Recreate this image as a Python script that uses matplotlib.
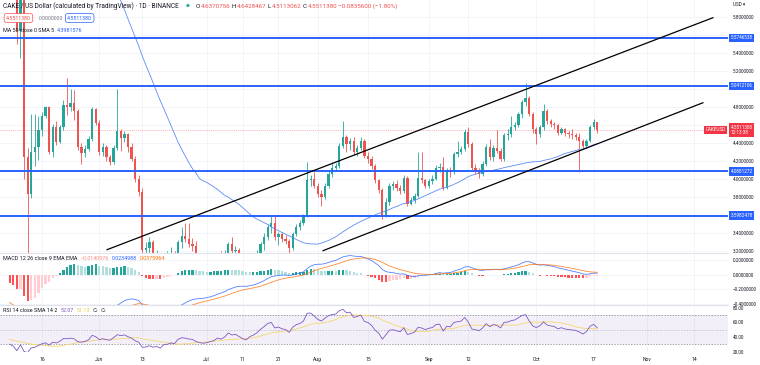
import numpy as np
import pandas as pd
import matplotlib
matplotlib.use("Agg")
import matplotlib.pyplot as plt
import matplotlib.dates as mdates
import matplotlib.transforms as mtrans

plt.rcParams['font.family'] = ['Roboto', 'DejaVu Sans']

# ---------------- data ----------------
# closes before the visible window (needed by the indicators), 2022-03-19 .. 2022-05-06
pre_start = "2022-03-19"
pre_close = [8.6, 8.8, 8.7, 9.0, 9.2, 9.1, 9.4, 9.6, 9.5, 9.8, 10.0, 9.7, 9.5,
             9.6, 9.9, 10.1, 9.8, 9.6, 9.0, 9.2, 9.1, 9.3, 9.2, 8.8, 9.0, 9.2, 9.1, 9.3,
             9.4, 9.2, 9.0, 9.3, 9.5, 9.3, 9.0, 8.9, 8.8, 8.3, 8.0, 8.2, 8.1, 7.9, 7.6,
             7.8, 7.9, 7.7, 8.0, 7.3, 7.1]

# daily candles 2022-05-07 .. 2022-10-18 (open = previous close)
first_day = "2022-05-07"
close = [
    # May 7-31
    6.90, 6.60, 5.65, 6.10, 4.25, 3.84, 4.31, 4.36, 4.55, 4.71, 4.80, 4.30, 4.58,
    4.42, 4.58, 4.83, 4.80, 4.85, 4.76, 4.36, 4.29, 4.34, 4.45, 4.78, 4.63,
    # Jun
    4.30, 4.36, 4.25, 4.19, 4.35, 4.54, 4.46, 4.50, 4.36, 4.23, 4.00, 3.86, 3.22,
    3.24, 3.30, 3.12, 3.15, 2.95, 3.10, 3.12, 3.18, 3.12, 3.30, 3.37, 3.34, 3.28,
    3.26, 3.12, 3.05, 3.00,
    # Jul
    3.02, 3.05, 3.08, 3.15, 3.10, 3.16, 3.28, 3.20, 3.22, 3.14, 3.05, 3.00, 3.08,
    3.12, 3.18, 3.28, 3.36, 3.47, 3.51, 3.36, 3.39, 3.34, 3.32, 3.24, 3.39, 3.47,
    3.51, 3.60, 3.99, 4.00, 3.93,
    # Aug
    3.84, 3.80, 3.93, 4.06, 4.13, 4.15, 4.37, 4.47, 4.39, 4.43, 4.30, 4.35, 4.43,
    4.26, 4.23, 4.15, 3.99, 3.88, 3.60, 3.75, 3.93, 3.95, 3.91, 3.87, 4.02, 3.73,
    3.77, 3.82, 4.02, 3.99, 3.93,
    # Sep
    3.98, 4.01, 4.13, 4.14, 3.91, 4.10, 4.08, 4.28, 4.31, 4.34, 4.53, 4.39, 4.13,
    4.10, 4.06, 4.17, 4.36, 4.25, 4.35, 4.32, 4.23, 4.49, 4.50, 4.58, 4.61, 4.73,
    4.86, 4.91, 4.73, 4.56,
    # Oct 1-18
    4.50, 4.58, 4.76, 4.65, 4.62, 4.60, 4.52, 4.56, 4.52, 4.50, 4.49, 4.475, 4.43,
    4.37, 4.43, 4.58, 4.634698, 4.5511380]
high = [
    7.10, 7.00, 6.70, 6.50, 6.30, 4.35, 4.73, 4.73, 4.70, 4.75, 4.82, 4.82, 4.62,
    4.65, 4.60, 4.88, 5.13, 5.00, 4.99, 4.78, 4.40, 4.38, 4.48, 4.80, 4.79,
    4.66, 4.40, 4.38, 4.27, 4.38, 5.00, 4.56, 4.54, 4.52, 4.40, 4.26, 4.05, 3.90,
    3.30, 3.36, 3.33, 3.22, 3.18, 3.15, 3.20, 3.25, 3.20, 3.33, 3.47, 3.52, 3.52,
    3.35, 3.32, 3.15, 3.10,
    3.10, 3.10, 3.12, 3.18, 3.20, 3.22, 3.30, 3.36, 3.26, 3.24, 3.16, 3.08, 3.12,
    3.16, 3.22, 3.30, 3.40, 3.50, 3.60, 3.60, 3.42, 3.42, 3.38, 3.34, 3.41, 3.50,
    3.55, 3.62, 4.19, 4.05, 4.08,
    3.96, 3.88, 3.96, 4.10, 4.19, 4.18, 4.40, 4.65, 4.49, 4.46, 4.47, 4.38, 4.47,
    4.45, 4.30, 4.26, 4.17, 4.01, 3.90, 3.79, 3.96, 3.98, 3.99, 3.94, 4.05, 4.04,
    3.80, 3.85, 4.31, 4.31, 4.00,
    4.01, 4.05, 4.16, 4.18, 4.25, 4.13, 4.14, 4.31, 4.43, 4.37, 4.56, 4.58, 4.42,
    4.17, 4.13, 4.20, 4.39, 4.45, 4.38, 4.55, 4.35, 4.52, 4.56, 4.70, 4.64, 4.75,
    4.88, 5.07, 4.93, 4.75,
    4.58, 4.61, 4.84, 4.78, 4.67, 4.64, 4.62, 4.58, 4.57, 4.54, 4.56, 4.52, 4.52,
    4.45, 4.45, 4.60, 4.67, 4.6428467]
low = [
    6.70, 6.40, 5.50, 5.35, 4.00, 2.95, 3.79, 4.15, 4.22, 4.48, 4.68, 4.28, 4.25,
    4.38, 4.40, 4.55, 4.72, 4.76, 4.66, 4.33, 4.17, 4.25, 4.32, 4.43, 4.60,
    4.27, 4.26, 4.20, 4.16, 4.17, 4.33, 4.32, 4.42, 4.30, 4.20, 3.97, 3.82, 3.05,
    3.05, 2.95, 3.05, 3.08, 2.80, 2.90, 3.02, 3.08, 3.05, 3.10, 3.24, 3.30, 3.25,
    3.20, 3.08, 2.98, 2.90,
    2.95, 2.98, 3.00, 3.05, 3.05, 3.06, 3.14, 3.15, 3.16, 3.10, 3.00, 2.95, 2.94,
    3.02, 3.10, 3.15, 3.22, 3.33, 3.40, 3.33, 3.27, 3.30, 3.28, 3.18, 3.22, 3.37,
    3.44, 3.49, 3.58, 3.93, 3.90,
    3.80, 3.70, 3.78, 3.90, 4.03, 4.10, 4.13, 4.35, 4.30, 4.33, 4.27, 4.26, 4.33,
    4.24, 4.18, 4.12, 3.96, 3.85, 3.56, 3.58, 3.72, 3.88, 3.87, 3.84, 3.85, 3.70,
    3.71, 3.74, 3.80, 3.96, 3.90,
    3.90, 3.95, 3.99, 4.08, 3.88, 3.89, 4.03, 4.06, 4.25, 4.28, 4.32, 4.36, 4.10,
    4.06, 4.02, 4.04, 4.15, 4.22, 4.21, 4.29, 4.20, 4.21, 4.44, 4.47, 4.55, 4.58,
    4.68, 4.82, 4.70, 4.52,
    4.39, 4.47, 4.55, 4.62, 4.58, 4.56, 4.49, 4.50, 4.48, 4.46, 4.45, 4.44, 4.08,
    4.34, 4.35, 4.42, 4.56, 4.5113062]
last_open = 4.6370756

# drawn horizontal levels and trend channel
levels = [5.5746538, 5.0412106, 4.0881272, 3.5982478]
level_labels = ["5.5746538", "5.0412106", "4.0881272", "3.5982478"]
upper_dates = ["2022-06-03 04:00", "2022-11-19 07:00"]
upper_prices = [3.219, 5.797]
lower_dates = ["2022-08-02 11:00", "2022-11-16 12:00"]
lower_prices = [3.208, 4.852]

tick_dates = ["2022-05-16", "2022-06-01", "2022-06-13", "2022-07-01", "2022-07-11",
              "2022-07-21", "2022-08-01", "2022-08-15", "2022-09-01", "2022-09-12",
              "2022-10-01", "2022-10-17", "2022-11-01", "2022-11-14"]
tick_labels = ["16", "Jun", "13", "Jul", "11", "21", "Aug", "15", "Sep", "12",
               "Oct", "17", "Nov", "14"]

price_ticks = [3.2, 3.4, 3.6, 3.8, 4.0, 4.2, 4.4, 4.6, 4.8, 5.0, 5.2, 5.4, 5.6, 5.8]
price_hidden = [3.6, 4.6, 5.0, 5.6]
macd_ticks = [-0.4, -0.2, 0.0, 0.2]
rsi_ticks = [20, 40, 60, 80]

# ---------------- series ----------------
dates = pd.date_range(first_day, periods=len(close), freq="D")
all_dates = pd.date_range(pre_start, periods=len(pre_close) + len(close), freq="D")
allc = pd.Series(pre_close + close, index=all_dates)

c = np.array(close)
o = np.array([pre_close[-1]] + close[:-1])
o[-1] = last_open
h = np.array(high)
l = np.array(low)
x = mdates.date2num(dates)

sma50 = allc.rolling(50).mean()
ema12 = allc.ewm(span=12, adjust=False).mean()
ema26 = allc.ewm(span=26, adjust=False).mean()
macd = ema12 - ema26
signal = macd.ewm(span=9, adjust=False).mean()
hist = macd - signal
chg = allc.diff()
up = chg.clip(lower=0).ewm(alpha=1/14, adjust=False).mean()
dn = (-chg.clip(upper=0)).ewm(alpha=1/14, adjust=False).mean()
rsi = 100 - 100 / (1 + up / dn)
rsi_ma = rsi.rolling(14).mean()

# ---------------- figure ----------------
W, H = 760, 365
fig = plt.figure(figsize=(W / 100, H / 100), dpi=100)
fig.patch.set_facecolor("white")

def rect(top, bottom, right=728):
    return [0, 1 - bottom / H, right / W, (bottom - top) / H]

ax = fig.add_axes(rect(0, 253))
axm = fig.add_axes(rect(253, 305), sharex=ax)
axr = fig.add_axes(rect(305, 352), sharex=ax)

UP, DN = "#26a69a", "#ef5350"
TXT = "#131722"
GRID = "#f0f3fa"
FS = 3.3

x0 = mdates.date2num(pd.Timestamp("2022-06-01"))
ax.set_xlim(x0 - 27.72, x0 + 175.5)
tick_x = mdates.date2num(pd.to_datetime(tick_dates))

for a in (ax, axm, axr):
    for s in a.spines.values():
        s.set_visible(False)
    a.set_xticks(tick_x)
    a.tick_params(axis="both", length=0, labelsize=FS, colors=TXT)
    a.yaxis.tick_right()
    a.grid(True, color=GRID, lw=0.6, zorder=0)
    a.set_axisbelow(True)
for a in (axm, axr):
    a.spines["top"].set_visible(True)
    a.spines["top"].set_color("#e0e3eb")
    a.spines["top"].set_linewidth(0.8)
ax.tick_params(labelbottom=False)
axm.tick_params(labelbottom=False)
axr.set_xticklabels(tick_labels)
axr.tick_params(axis="x", pad=3.5, labelsize=3.6)
for a in (ax, axm, axr):
    a.tick_params(axis="y", pad=3.2)

# ---- main pane ----
ax.set_ylim(3.182, 5.994)
ax.set_yticks(price_ticks)
ax.set_yticklabels(["" if p in price_hidden else f"{p:.7f}" for p in price_ticks])

cols = np.where(c >= o, UP, DN)
ax.vlines(x, l, h, colors=cols, lw=0.6, zorder=3)
body_lo = np.minimum(o, c)
body_h = np.maximum(np.abs(c - o), 0.006)
ax.bar(x, body_h, bottom=body_lo, width=0.64, color=cols, lw=0, zorder=4)

vis = sma50.index >= dates[0]
ax.plot(mdates.date2num(sma50.index[vis]), sma50[vis].values, color="#5b8cf5",
        lw=0.6, zorder=5)

for lv in levels:
    ax.axhline(lv, color="#2962ff", lw=1.4, zorder=6)
ax.plot(mdates.date2num(pd.to_datetime(upper_dates)), upper_prices, color="#000000",
        lw=0.9, zorder=6)
ax.plot(mdates.date2num(pd.to_datetime(lower_dates)), lower_prices, color="#000000",
        lw=0.9, zorder=6)
ax.axhline(c[-1], color=DN, lw=0.5, ls=(0, (1.5, 1.5)), alpha=0.6, zorder=2)

bt = mtrans.blended_transform_factory(ax.transAxes, ax.transData)
for lv, lab in zip(levels, level_labels):
    ax.text(1.0035, lv, lab, transform=bt, ha="left", va="center", fontsize=FS,
            color="white", clip_on=False, zorder=10,
            bbox=dict(boxstyle="square,pad=0.35", fc="#2962ff", ec="none"))
ax.text(1.0035, c[-1], f"{c[-1]:.7f}\n12:13:38", transform=bt, ha="left", va="center",
        fontsize=FS, color="white", clip_on=False, zorder=10, linespacing=1.15,
        bbox=dict(boxstyle="square,pad=0.35", fc="#f23645", ec="none"))
ax.text(0.997, c[-1], "CAKEUSD", transform=bt, ha="right", va="center", fontsize=FS,
        color="white", zorder=10,
        bbox=dict(boxstyle="square,pad=0.35", fc="#f23645", ec="none"))
fig.text(733 / W, 1 - 5 / H, "USD \u25be", fontsize=FS, color=TXT, va="center")

# ---- MACD pane ----
axm.set_ylim(-0.414, 0.303)
axm.set_yticks(macd_ticks)
axm.set_yticklabels([f"{v:.7f}".replace("-", "\u2212") for v in macd_ticks])
mv = macd.index >= dates[0]
hv = hist.values
hcol = []
for i in range(len(hv)):
    prev = hv[i - 1] if i > 0 else hv[i]
    if hv[i] >= 0:
        hcol.append("#26a69a" if hv[i] > prev else "#b2dfdb")
    else:
        hcol.append("#ffcdd2" if hv[i] > prev else "#ff5252")
hcol = np.array(hcol)
axm.bar(mdates.date2num(hist.index[mv]), hv[mv], width=0.64, color=hcol[mv], lw=0,
        zorder=3)
axm.plot(mdates.date2num(macd.index[mv]), macd[mv].values, color="#2962ff", lw=0.6,
         zorder=4, alpha=0.8)
axm.plot(mdates.date2num(signal.index[mv]), signal[mv].values, color="#ff6d00", lw=0.6,
         zorder=4, alpha=0.8)

# ---- RSI pane ----
axr.set_ylim(19.5, 83.65)
axr.set_yticks(rsi_ticks)
axr.set_yticklabels([f"{v:.2f}" for v in rsi_ticks])
axr.grid(False, axis="y")
axr.axhspan(30, 70, color="#7e57c2", alpha=0.09, lw=0, zorder=1)
axr.axhline(70, color="#787b86", lw=0.5, ls=(0, (2, 2)), zorder=2)
axr.axhline(50, color="#787b86", lw=0.5, ls=(0, (2, 2)), alpha=0.5, zorder=2)
axr.axhline(30, color="#787b86", lw=0.5, ls=(0, (2, 2)), zorder=2)
rv = rsi.index >= dates[0]
axr.plot(mdates.date2num(rsi.index[rv]), rsi[rv].values, color="#7e57c2", lw=0.6, zorder=4)
axr.plot(mdates.date2num(rsi_ma.index[rv]), rsi_ma[rv].values, color="#f5d76e", lw=0.6,
         zorder=3)

# ---- legends ----
fig.canvas.draw()
R = fig.canvas.get_renderer()

def seq(xp, yp, parts, fs=FS, gap=3):
    for s, col, box in parts:
        kw = {}
        if box:
            kw["bbox"] = dict(boxstyle="round,pad=0.35,rounding_size=0.4", fc="white",
                              ec=box, lw=0.5)
        t = fig.text(xp / W, 1 - yp / H, s, fontsize=fs, color=col, va="center",
                     ha="left", **kw)
        xp += t.get_window_extent(R).width + gap + (4 if box else 0)
    return xp

gray = "#787b86"
xe = seq(3, 6, [("CAKE / US Dollar (calculated by TradingView) \u00b7 1D \u00b7 BINANCE",
                 TXT, None)], fs=4.7)
fig.text((xe + 4) / W, 1 - 6 / H, "\u25cf", fontsize=3.2, color=UP, va="center")
seq(xe + 14, 6, [("O", TXT, None), ("4.6370756", DN, None), ("H", TXT, None),
                 ("4.6428467", DN, None), ("L", TXT, None), ("4.5113062", DN, None),
                 ("C", TXT, None), ("4.5511380", DN, None),
                 ("\u22120.0835600 (\u22121.80%)", DN, None)], fs=4.5, gap=1)
seq(6, 18, [("4.5511380", DN, DN), ("0.0000000", gray, None), ("4.5511380", "#2962ff", "#2962ff")],
    fs=3.8, gap=4)
seq(3, 30, [("MA 50 close 0 SMA 5", TXT, None), ("4.3981576", "#2962ff", None)], fs=3.9)
seq(3, 258, [("MACD 12 26 close 9 EMA EMA", TXT, None),
             ("\u22120.0140976", "#ff8a80", None), ("0.0234988", "#2962ff", None),
             ("0.0375964", "#ff6d00", None)], fs=3.9)
seq(3, 311, [("RSI 14 close SMA 14 2", TXT, None), ("52.07", "#7e57c2", None),
             ("51.13", "#e6c84a", None), ("\u2205", TXT, None), ("\u2205", TXT, None)], fs=3.9)

fig.savefig("out.png", dpi=100)
